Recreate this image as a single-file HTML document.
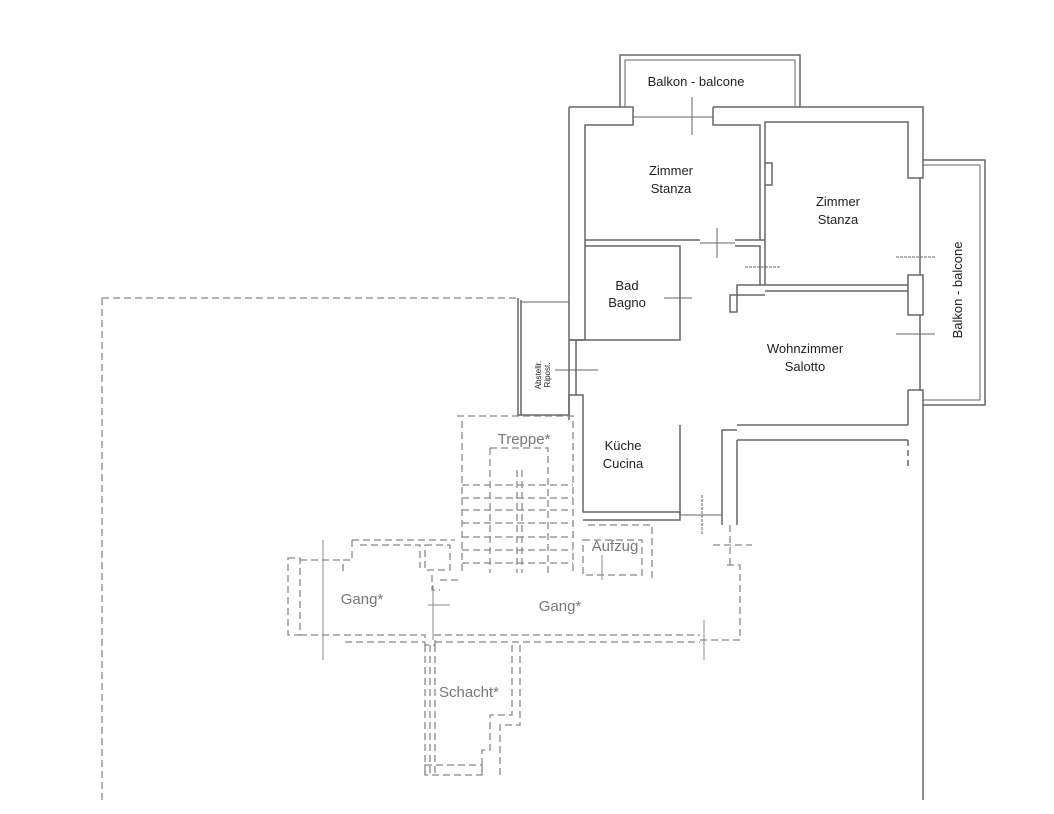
<!DOCTYPE html>
<html><head><meta charset="utf-8"><style>
html,body{margin:0;padding:0;background:#fff;width:1054px;height:814px;overflow:hidden}
svg{display:block}
text{font-family:"Liberation Sans",sans-serif;fill:#222}
</style></head><body>
<svg width="1054" height="814" viewBox="0 0 1054 814" xmlns="http://www.w3.org/2000/svg">
<g fill="none" stroke="#666" stroke-width="1.5">
<path d="M620 107 V55 H800 V107"/>
<path d="M625 107 V60 H795 V107" stroke-width="1"/>
<path d="M569 107 H633 V125 H585 V340"/>
<path d="M569 107 V415"/>
<path d="M713 107 H923 V178 H908 V122 H765 V285"/>
<path d="M713 107 V125 H760 V240" />
<line x1="633" y1="117" x2="713" y2="117" stroke-width="1"/>
<line x1="692" y1="97" x2="692" y2="135" stroke-width="1"/>
<path d="M923 160 H985 V405 H923"/>
<path d="M923 165 H980 V400 H923" stroke-width="1"/>
<path d="M920 178 V275"/>
<path d="M908 275 H923 V315 H908 Z"/>
<path d="M920 315 V390"/>
<path d="M908 390 H923 V800"/>
<path d="M908 390 V425"/>
<line x1="896" y1="257" x2="935" y2="257" stroke-width="1" stroke-dasharray="3 1"/>
<line x1="896" y1="334" x2="935" y2="334" stroke-width="1"/>
<path d="M585 240 H700 M585 246 H680 V340 H569"/>
<path d="M735 240 H765 M735 246 H760 V285"/>
<line x1="700" y1="243" x2="735" y2="243" stroke-width="1"/>
<line x1="717" y1="228" x2="717" y2="258" stroke-width="1"/>
<line x1="745" y1="267" x2="780" y2="267" stroke-width="1" stroke-dasharray="3 1"/>
<path d="M765 163 H772 V185 H765"/>
<path d="M908 285 H737 V312 H730 V295 H765 M908 291 H765"/>
<line x1="664" y1="298" x2="692" y2="298" stroke-width="1"/>
<path d="M518 298 V415 H569 M521 300 V415"/>
<path d="M521 302 H569" stroke-width="1"/>
<path d="M569 340 H585 M576 340 V395"/>
<line x1="555" y1="370" x2="598" y2="370" stroke-width="1"/>
<path d="M569 395 H583 V512 H680 V520 H583"/>
<path d="M569 395 V420"/>
<line x1="680" y1="425" x2="680" y2="515"/>
<line x1="680" y1="515" x2="722" y2="515" stroke-width="1"/>
<line x1="702" y1="495" x2="702" y2="535" stroke-width="1" stroke-dasharray="3 1"/>
<path d="M722 525 V430 H737 M737 440 V525 M737 440 H908 M737 425 H908"/>
<line x1="908" y1="440" x2="908" y2="470" stroke-dasharray="6 4"/>
</g>
<g fill="none" stroke="#888" stroke-width="1.3" stroke-dasharray="7 4">
<line x1="102" y1="298" x2="518" y2="298"/>
<line x1="102" y1="298" x2="102" y2="800"/>
<path d="M457 416 H573 V573 M462 421 V573"/>
<path d="M490 448 H548 V573 M490 448 V573"/>
<path d="M462 485 H573 M462 498 H573 M462 510 H573 M462 523 H573 M462 537 H573 M462 550 H573 M462 563 H573"/>
<path d="M517 470 V573 M522 470 V573"/>
<path d="M583 540 H642 V575 H583 Z M588 525 H652 V580"/>
<path d="M352 540 H455 M352 540 V560 H343 V575 M360 545 H420 V568"/>
<path d="M288 558 H300 V635 H288 Z M300 568 V625"/>
<path d="M300 560 H340 M300 635 H425 V645 H435 V635 H700"/>
<path d="M345 642 H425 M435 642 H700"/>
<path d="M425 545 H450 V570 H425 Z"/>
<path d="M432 575 V590 H440 M440 580 H462"/>
<path d="M727 565 H740 V640 H727 M700 640 H740"/>
<line x1="713" y1="545" x2="752" y2="545"/>
<line x1="730" y1="525" x2="730" y2="565"/>
<path d="M425 645 V775 M430 645 V775 M435 645 V775"/>
<path d="M512 645 V715 H490 V750 H482 V775 M520 645 V725 H500 V775"/>
<path d="M425 765 H482 V775 H425 Z"/>
</g>
<g stroke="#888" stroke-width="1">
<line x1="323" y1="540" x2="323" y2="660"/>
<line x1="428" y1="605" x2="450" y2="605"/>
<line x1="433" y1="585" x2="433" y2="640"/>
<line x1="602" y1="555" x2="602" y2="580"/>
<line x1="704" y1="620" x2="704" y2="660"/>
</g>
<text x="696" y="86" font-size="13" text-anchor="middle">Balkon - balcone</text>
<text x="671" y="175" font-size="13" text-anchor="middle">Zimmer</text>
<text x="671" y="193" font-size="13" text-anchor="middle">Stanza</text>
<text x="838" y="206" font-size="13" text-anchor="middle">Zimmer</text>
<text x="838" y="224" font-size="13" text-anchor="middle">Stanza</text>
<text x="627" y="290" font-size="13" text-anchor="middle">Bad</text>
<text x="627" y="307" font-size="13" text-anchor="middle">Bagno</text>
<text x="805" y="353" font-size="13" text-anchor="middle">Wohnzimmer</text>
<text x="805" y="371" font-size="13" text-anchor="middle">Salotto</text>
<text x="623" y="450" font-size="13" text-anchor="middle">Küche</text>
<text x="623" y="468" font-size="13" text-anchor="middle">Cucina</text>
<text transform="translate(962,290) rotate(-90)" font-size="13" text-anchor="middle">Balkon - balcone</text>
<text transform="translate(541,375) rotate(-90)" font-size="8" text-anchor="middle">Abstellr.</text>
<text transform="translate(550,375) rotate(-90)" font-size="8" text-anchor="middle">Ripost.</text>
<text x="524" y="444" font-size="15" text-anchor="middle" style="fill:#777">Treppe*</text>
<text x="615" y="551" font-size="15" text-anchor="middle" style="fill:#777">Aufzug</text>
<text x="362" y="604" font-size="15" text-anchor="middle" style="fill:#777">Gang*</text>
<text x="560" y="611" font-size="15" text-anchor="middle" style="fill:#777">Gang*</text>
<text x="469" y="697" font-size="15" text-anchor="middle" style="fill:#777">Schacht*</text>
</svg>
</body></html>
